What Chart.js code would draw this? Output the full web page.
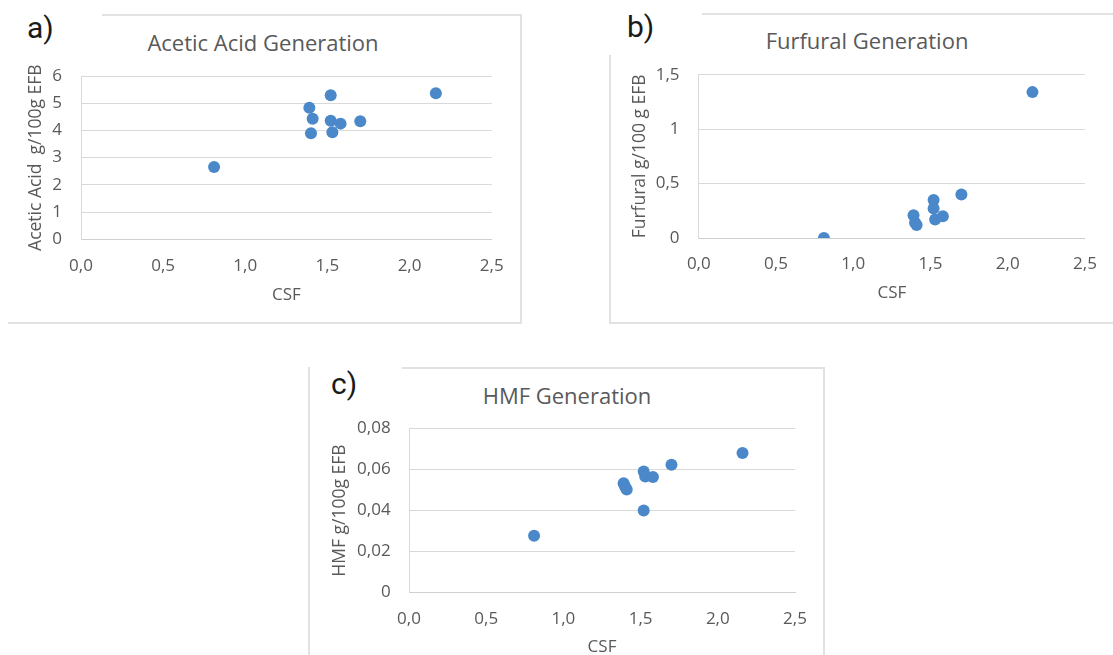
<!DOCTYPE html>
<html>
<head>
<meta charset="utf-8">
<title>Acetic acid, furfural and HMF generation vs CSF</title>
<script src="https://cdn.jsdelivr.net/npm/chart.js@4.4.1/dist/chart.umd.min.js"></script>
<style>
  html, body { margin: 0; padding: 0; background: #fff; width: 1113px; height: 655px; overflow: hidden; }
  body { position: relative; font-family: 'Open Sans', sans-serif; }
  .line { position: absolute; background: #e2e2e2; }
  .tag { position: absolute; font-family: Roboto, sans-serif; font-size: 30px; line-height: 30px; color: #1a1a1a; }
  .title { position: absolute; width: 400px; text-align: center; font-size: 22px; line-height: 26px; color: #595959; }
  canvas { position: absolute; }
</style>
</head>
<body>
<!-- panel frames -->
<div class="line" style="left:102px;top:14px;width:420px;height:2px"></div>
<div class="line" style="left:520px;top:14px;width:2px;height:310px"></div>
<div class="line" style="left:8px;top:322px;width:514px;height:2px"></div>

<div class="line" style="left:702px;top:13px;width:411px;height:2px"></div>
<div class="line" style="left:609px;top:55px;width:2px;height:269px"></div>
<div class="line" style="left:609px;top:322px;width:504px;height:2px"></div>

<div class="line" style="left:402px;top:367px;width:423px;height:2px"></div>
<div class="line" style="left:308px;top:367px;width:2px;height:288px"></div>
<div class="line" style="left:823px;top:367px;width:2px;height:288px"></div>

<div class="tag" style="left:27px;top:13px">a)</div>
<div class="tag" style="left:627px;top:12px">b)</div>
<div class="tag" style="left:331px;top:369px">c)</div>

<div class="title" style="left:63px;top:29px">Acetic Acid Generation</div>
<div class="title" style="left:667px;top:27px">Furfural Generation</div>
<div class="title" style="left:367px;top:382px">HMF Generation</div>

<canvas id="chartA" width="513" height="308" style="left:8px;top:15px;width:513px;height:308px"></canvas>
<canvas id="chartB" width="504" height="309" style="left:609px;top:14px;width:504px;height:309px"></canvas>
<canvas id="chartC" width="515" height="300" style="left:309px;top:368px;width:515px;height:300px"></canvas>

<script>
// CSF of each pretreatment run (same runs in all three panels)
const csf = [0.81, 1.39, 1.40, 1.41, 1.52, 1.52, 1.53, 1.58, 1.70, 2.16];

const aceticAcid = [2.66, 4.83, 3.90, 4.43, 5.29, 4.36, 3.93, 4.25, 4.34, 5.37];
const furfural   = [0.00, 0.21, 0.14, 0.12, 0.35, 0.27, 0.17, 0.20, 0.40, 1.34];
const hmf        = [0.0277, 0.0533, 0.0516, 0.0503, 0.0400, 0.0590, 0.0566, 0.0563, 0.0623, 0.0680];

const xTickLabels = ['0,0', '0,5', '1,0', '1,5', '2,0', '2,5'];
const aceticTicks = ['0', '1', '2', '3', '4', '5', '6'];
const furfuralTicks = ['0', '0,5', '1', '1,5'];
const hmfTicks = ['0', '0,02', '0,04', '0,06', '0,08'];

const DOT = '#4a88ca';
const GRID = '#d9d9d9';
const TXT = '#595959';

Chart.defaults.font.family = "'Open Sans', sans-serif";
Chart.defaults.color = TXT;

function scatter(id, yData, yLabels, yStep, yTitle, lay){
  return new Chart(document.getElementById(id), {
    type: 'scatter',
    data: {
      datasets: [{
        data: csf.map((x, i) => ({ x, y: yData[i] })),
        backgroundColor: DOT,
        borderWidth: 0,
        pointRadius: 6,
        pointHoverRadius: 6
      }]
    },
    options: {
      responsive: false,
      animation: false,
      layout: { padding: { left: 0, top: lay.top, right: lay.right, bottom: 0 } },
      plugins: { legend: { display: false }, tooltip: { enabled: false }, title: { display: false } },
      scales: {
        x: {
          type: 'linear', min: 0, max: 2.5,
          grid: { display: false, drawTicks: false },
          border: { color: '#cfcfcf', width: 1 },
          ticks: { stepSize: 0.5, padding: lay.xPad, color: TXT, font: { size: 17 },
                   callback: (v, i) => xTickLabels[i] },
          title: { display: true, text: 'CSF', color: TXT, font: { size: 17 },
                   padding: { top: 0, bottom: lay.xTitlePad } },
          afterFit: s => { s.height = lay.xH; }
        },
        y: {
          type: 'linear', min: 0, max: yStep * (yLabels.length - 1),
          grid: { color: GRID, lineWidth: 1, drawTicks: false },
          border: { color: GRID, width: 1 },
          ticks: { stepSize: yStep, padding: lay.yPad, color: TXT, font: { size: 17 },
                   callback: (v, i) => yLabels[i] },
          title: { display: true, text: yTitle, color: TXT, font: { size: 17.5 },
                   padding: { top: lay.yTitlePad, bottom: 0 } },
          afterFit: s => { s.width = lay.yW; }
        }
      }
    }
  });
}

scatter('chartA', aceticAcid, aceticTicks, 1, 'Acetic Acid  g/100g EFB',
  { top: 61, right: 29.3, yW: 73, yPad: 19, yTitlePad: 17.5, xH: 83.7, xPad: 16.8, xTitlePad: 17.5 });

scatter('chartB', furfural, furfuralTicks, 0.5, 'Furfural g/100 g EFB',
  { top: 60.7, right: 17.8, yW: 89.8, yPad: 19.3, yTitlePad: 20.3, xH: 85, xPad: 16.1, xTitlePad: 19.5 });

scatter('chartC', hmf, hmfTicks, 0.02, 'HMF g/100g EFB',
  { top: 60.5, right: 29, yW: 100, yPad: 18.4, yTitlePad: 20.8, xH: 75.5, xPad: 16.6, xTitlePad: 11.1 });
</script>
</body>
</html>
